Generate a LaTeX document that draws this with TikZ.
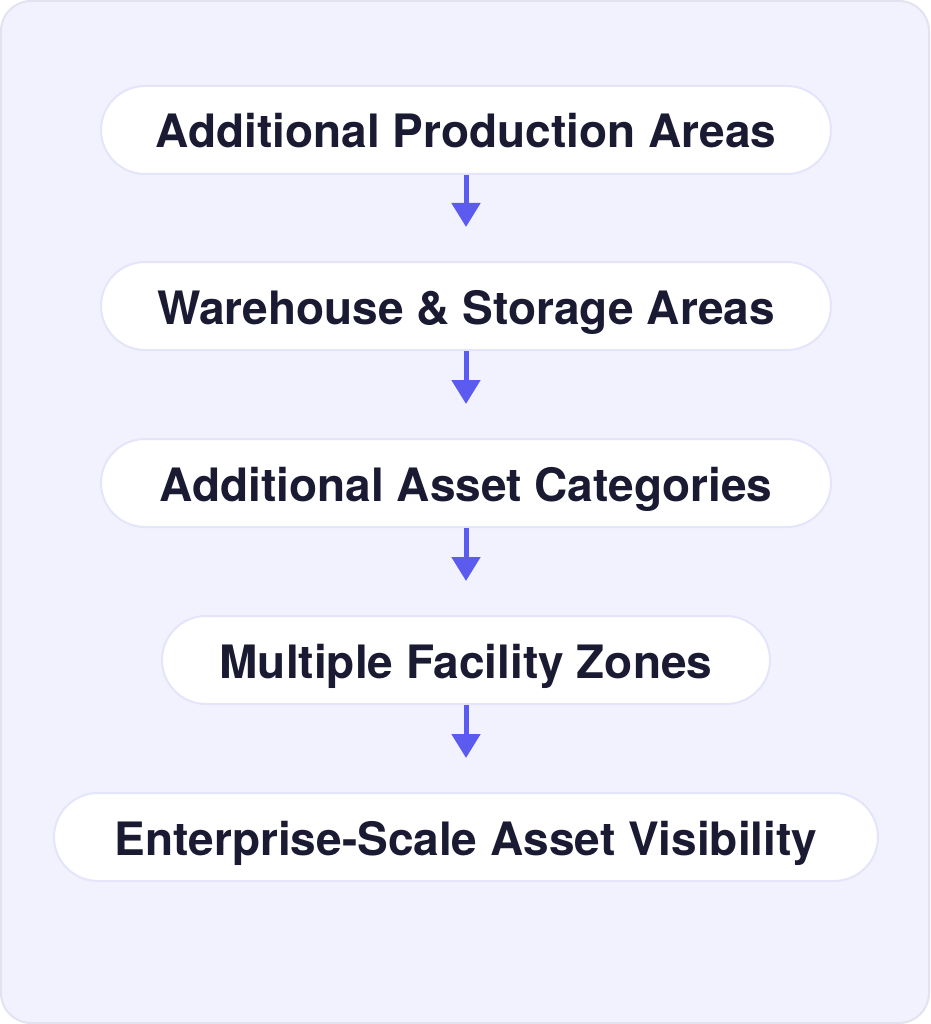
\documentclass[tikz,border=0pt]{standalone}
\usepackage{fontspec}
\setmainfont{TeX Gyre Heros}
\usetikzlibrary{arrows.meta}
\definecolor{bgfill}{HTML}{F2F2FE}
\definecolor{bgline}{HTML}{E3E3F0}
\definecolor{boxline}{HTML}{E4E4FA}
\definecolor{txt}{HTML}{1A1B33}
\definecolor{arr}{HTML}{5B5BF0}
\tikzset{
  stage/.style={draw=boxline, line width=2pt, fill=white, rounded corners=44pt,
    minimum height=88pt, inner sep=0pt, text=txt, text height=36pt, text depth=0pt,
    font=\fontsize{46}{54}\selectfont\bfseries},
  flow/.style={draw=arr, line width=5pt, -{Triangle[width=28pt,length=24pt]},
    shorten >=34pt}
}
\begin{document}
\begin{tikzpicture}[x=1pt,y=-1pt]
\useasboundingbox (0,0) rectangle (930,1024);
\draw[bgline, fill=bgfill, line width=2pt, rounded corners=30pt] (1,1) rectangle (929,1023);
\node[stage, minimum width=730pt] (b1) at (466,130) {Additional Production Areas};
\node[stage, minimum width=730pt] (b2) at (466,306) {Warehouse \& Storage Areas};
\node[stage, minimum width=730pt] (b3) at (466,483) {Additional Asset Categories};
\node[stage, minimum width=608pt] (b4) at (466,660) {Multiple Facility Zones};
\node[stage, minimum width=824pt] (b5) at (466,837) {Enterprise-Scale Asset Visibility};
\draw[flow] (b1.south) -- (b2.north);
\draw[flow] (b2.south) -- (b3.north);
\draw[flow] (b3.south) -- (b4.north);
\draw[flow] (b4.south) -- (b5.north);
\end{tikzpicture}
\end{document}
